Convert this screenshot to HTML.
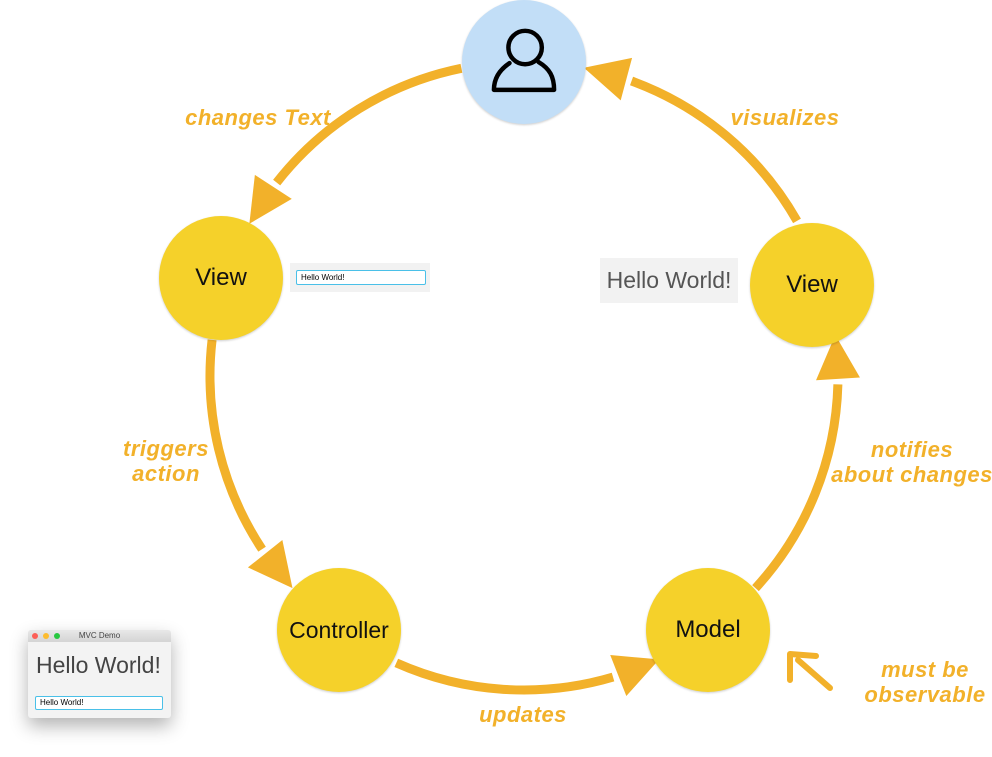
<!DOCTYPE html>
<html><head><meta charset="utf-8"><style>
html,body{margin:0;padding:0;background:#fff;width:992px;height:757px;overflow:hidden;position:relative;font-family:"Liberation Sans",sans-serif}
.lbl{position:absolute;color:#F2B12A;font-weight:bold;font-style:italic;font-size:22px;line-height:25px;text-align:center;white-space:nowrap;font-family:"Liberation Sans",sans-serif;letter-spacing:0.5px}
.node{position:absolute;border-radius:50%;background:#F5D12A;display:flex;align-items:center;justify-content:center;font-size:24px;color:#111;box-shadow:0 1px 2px rgba(0,0,0,.2)}
</style></head><body>
<svg id="s" width="992" height="757" style="position:absolute;left:0;top:0"></svg>

<div class="node" style="left:462px;top:0px;width:124px;height:124px;background:#C2DEF7">
<svg width="78" height="78" viewBox="0 0 70 70"><circle cx="36" cy="22" r="15" fill="none" stroke="#000" stroke-width="4"/><path d="M22 36 C13 42 8 50 8 60 L62 60 C62 48 58 41 48 35" fill="none" stroke="#000" stroke-width="4" stroke-linejoin="round" stroke-linecap="round"/></svg>
</div>
<div class="node" style="left:159px;top:216px;width:124px;height:124px">View</div>
<div class="node" style="left:750px;top:223px;width:124px;height:124px">View</div>
<div class="node" style="left:277px;top:568px;width:124px;height:124px;font-size:23px">Controller</div>
<div class="node" style="left:646px;top:568px;width:124px;height:124px">Model</div>

<div style="position:absolute;left:290px;top:263px;width:140px;height:29px;background:#f2f2f2"></div>
<div style="position:absolute;left:296px;top:270px;height:13px;background:#fff;border:1.5px solid #4ac0e8;border-radius:2px;font-size:8px;line-height:13px;padding-left:4px;box-sizing:content-box;width:124px">Hello World!</div>

<div style="position:absolute;left:600px;top:258px;width:138px;height:45px;background:#f2f2f2;font-size:23px;color:#555;line-height:45px;text-align:center">Hello World!</div>

<div style="position:absolute;left:28px;top:630px;width:143px;height:88px;background:#f3f3f3;border-radius:3px;box-shadow:0 8px 18px rgba(0,0,0,.3);overflow:hidden">
 <div style="height:12px;background:linear-gradient(#e8e8e8,#d4d4d4);font-size:8px;line-height:12px;text-align:center;color:#444;position:relative">MVC Demo
  <span style="position:absolute;left:4px;top:3px;width:6px;height:6px;border-radius:50%;background:#fc5f57"></span>
  <span style="position:absolute;left:15px;top:3px;width:6px;height:6px;border-radius:50%;background:#fdbc2e"></span>
  <span style="position:absolute;left:26px;top:3px;width:6px;height:6px;border-radius:50%;background:#28c840"></span>
 </div>
 <div style="position:absolute;left:8px;top:22px;font-size:23px;color:#444">Hello World!</div>
 <div style="position:absolute;left:7px;top:66px;width:122px;height:12px;background:#fff;border:1.5px solid #4ac0e8;border-radius:2px;font-size:8px;line-height:12px;padding-left:4px">Hello World!</div>
</div>

<div class="lbl" style="left:180px;top:105px;width:156px">changes Text</div>
<div class="lbl" style="left:726px;top:105px;width:118px">visualizes</div>
<div class="lbl" style="left:106px;top:436px;width:120px">triggers<br>action</div>
<div class="lbl" style="left:830px;top:437px;width:164px">notifies<br>about changes</div>
<div class="lbl" style="left:474px;top:702px;width:98px">updates</div>
<div class="lbl" style="left:860px;top:657px;width:130px">must be<br>observable</div>

<script>
var s=document.getElementById('s'),C=[524,376],R=314,col='#F2B12A',h='';
function p(a){a=a*Math.PI/180;return [C[0]+R*Math.cos(a),C[1]+R*Math.sin(a)];}
function arrow(a0,at){
 var L=44,W=22,dA=L/R*180/Math.PI;var ab=at+dA;
 var b=p(a0),e=p(ab+1);
 h+='<path d="M'+b[0]+' '+b[1]+' A'+R+' '+R+' 0 0 0 '+e[0]+' '+e[1]+'" fill="none" stroke="'+col+'" stroke-width="9"/>';
 var t=p(at),bc=p(ab),dx=t[0]-bc[0],dy=t[1]-bc[1],l=Math.hypot(dx,dy);dx/=l;dy/=l;
 var nx=-dy,ny=dx;
 h+='<polygon points="'+t[0]+','+t[1]+' '+(bc[0]+nx*W)+','+(bc[1]+ny*W)+' '+(bc[0]-nx*W)+','+(bc[1]-ny*W)+'" fill="'+col+'"/>';
}
arrow(258.5,209);
arrow(186.6,137.5);
arrow(114,64.5);
arrow(42.5,-7.5);
arrow(-29.6,-79);
h+='<path d="M830 688 L798 660" stroke="'+col+'" stroke-width="6" stroke-linecap="round"/><path d="M790 680 L790 654 L816 656" fill="none" stroke="'+col+'" stroke-width="6" stroke-linecap="round" stroke-linejoin="round"/>';
s.innerHTML=h;
</script>
</body></html>
